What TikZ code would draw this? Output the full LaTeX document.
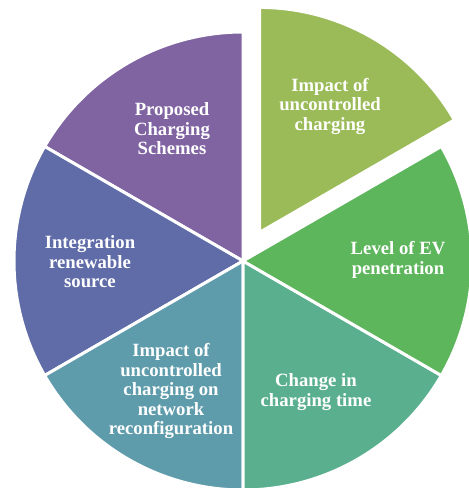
\documentclass[tikz,border=0pt]{standalone}
\usepackage{fontspec}
\setmainfont{Liberation Serif}
\usetikzlibrary{calc}
\definecolor{cPurple}{HTML}{8064A2}
\definecolor{cBlue}{HTML}{5F6CA8}
\definecolor{cTeal}{HTML}{5F9CAB}
\definecolor{cSea}{HTML}{5AB08E}
\definecolor{cGreen}{HTML}{5DB55C}
\definecolor{cLime}{HTML}{9BBB59}
\tikzset{
	slice/.style={draw=white, line width=3pt, line join=round},
	lbl/.style={text=white, align=center, font=\fontsize{18.7}{19.5}\selectfont\bfseries}
}
\begin{document}
\begin{tikzpicture}[x=1pt, y=1pt]
	\useasboundingbox (0, 0) rectangle (469, 488);
	\coordinate (c) at (243, 227);

	% the six slices, 60 degrees each
	\filldraw[slice, fill=cPurple] (c) -- ++(90:229) arc (90:150:229) -- cycle;
	\filldraw[slice, fill=cBlue] (c) -- ++(150:229) arc (150:210:229) -- cycle;
	\filldraw[slice, fill=cTeal] (c) -- ++(210:229) arc (210:270:229) -- cycle;
	\filldraw[slice, fill=cSea] (c) -- ++(270:229) arc (270:330:229) -- cycle;
	\filldraw[slice, fill=cGreen] (c) -- ++(-30:229) arc (-30:30:229) -- cycle;
	% pulled out slice
	\coordinate (cx) at ($(c)+(60:33)$);
	\filldraw[slice, fill=cLime] (cx) -- ++(30:225) arc (30:90:225) -- cycle;

	\node[lbl] (impact) at (330, 382) {Impact of\\uncontrolled\\charging};
	\node[lbl] (level) at (398, 228) {Level of EV\\penetration};
	\node[lbl] (change) at (316, 96) {Change in\\charging time};
	\node[lbl] (network) at (171, 97) {Impact of\\uncontrolled\\charging on\\network\\reconfiguration};
	\node[lbl] (renew) at (90, 226) {Integration\\renewable\\source};
	\node[lbl] (schemes) at (172, 359) {Proposed\\Charging\\Schemes};
\end{tikzpicture}
\end{document}
